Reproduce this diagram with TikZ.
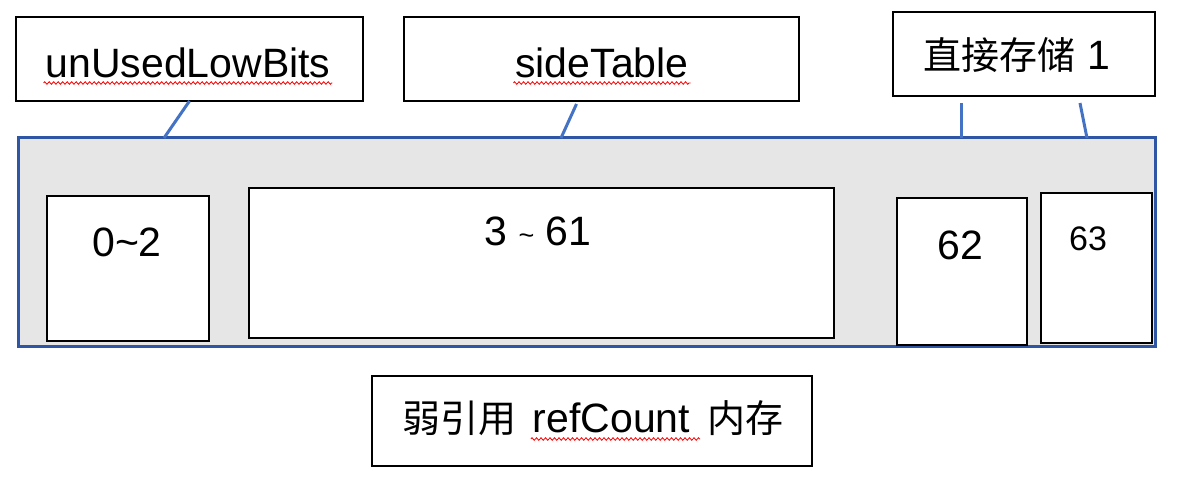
\documentclass[tikz,border=0pt]{standalone}
\usepackage{fontspec}
\setmainfont{Liberation Sans}
\newfontfamily\cjk{Noto Sans CJK SC}
\usetikzlibrary{calc,decorations.pathmorphing}
\definecolor{frameblue}{HTML}{2F55A5}
\definecolor{linkblue}{HTML}{4472C4}
\definecolor{panelgray}{HTML}{E6E6E6}
\tikzset{
 cell/.style={draw=black, line width=2pt, fill=white, inner sep=0pt, outer sep=0pt},
 txt/.style={inner sep=0pt, outer sep=0pt, anchor=base, font=\fontsize{41}{48}\selectfont},
 cjktxt/.style={inner sep=0pt, outer sep=0pt, anchor=base, font=\fontsize{38}{46}\selectfont\cjk},
 link/.style={draw=linkblue, line width=3pt},
 spell/.style={draw=red, line width=0.8pt, decorate, decoration={zigzag, amplitude=1.3pt, segment length=4.5pt}},
}
\begin{document}
\begin{tikzpicture}[x=1pt,y=-1pt]
\useasboundingbox (0,0) rectangle (1178,502);
% panel
\node[draw=frameblue, line width=3pt, fill=panelgray, inner sep=0pt, outer sep=0pt,
      minimum width=1137pt, minimum height=209pt] (panel) at (586.5,242.5) {};
% top boxes
\node[cell, minimum width=347pt, minimum height=84pt] (top1) at (189.5,59) {};
\node[cell, minimum width=395pt, minimum height=84pt] (top2) at (601.5,59) {};
\node[cell, minimum width=262pt, minimum height=84pt] (top3) at (1024,54) {};
% inner cells
\node[cell, minimum width=162pt, minimum height=145pt] (b02) at (128,268.5) {};
\node[cell, minimum width=585pt, minimum height=150pt] (b361) at (541.5,263) {};
\node[cell, minimum width=130pt, minimum height=147pt] (b62) at (962,271.5) {};
\node[cell, minimum width=111pt, minimum height=150pt] (b63) at (1096.5,268) {};
% bottom box
\node[cell, minimum width=440pt, minimum height=90pt] (bot) at (592,421) {};
% texts
\node[txt] (t1) at (188,78) {unUsedLowBits};
\node[txt] (t2) at (602,78) {sideTable};
\node[txt] (t3) at (1017,70) {{\cjk\fontsize{38}{46}\selectfont 直接存储} 1};
\node[txt] (t02) at (127,257) {0\textasciitilde 2};
\node[txt] (t361) at (538,246) {3 {\fontsize{27}{30}\selectfont\raisebox{1pt}{\textasciitilde}} 61};
\node[txt] (t62) at (960,260) {62};
\node[txt, font=\fontsize{34}{40}\selectfont] (t63) at (1088,251) {63};
\node[txt] (rc) at (611.5,432) {refCount};
\node[cjktxt, anchor=base east] (weak) at ($(rc.base west)+(-16,0)$) {弱引用};
\node[cjktxt, anchor=base west] (mem) at ($(rc.base east)+(17,0)$) {内存};
% spelling marks
\draw[spell] ($(t1.base west)+(-2,5)$) -- ($(t1.base east)+(2,5)$);
\draw[spell] ($(t2.base west)+(-2,5)$) -- ($(t2.base east)+(2,5)$);
\draw[spell] ($(rc.base west)+(-2,7)$) -- ($(rc.base east)+(10,7)$);
% connectors
\draw[link] (top1.south) -- ($(panel.north west)+(146,0)$);
\draw[link] ($(top2.south)+(-25,3)$) -- ($(panel.north west)+(543,0)$);
\draw[link] ($(top3.south)+(-63,7)$) -- ($(panel.north west)+(943,0)$);
\draw[link] ($(top3.south)+(56,7)$) -- ($(panel.north west)+(1069,0)$);
\end{tikzpicture}
\end{document}
